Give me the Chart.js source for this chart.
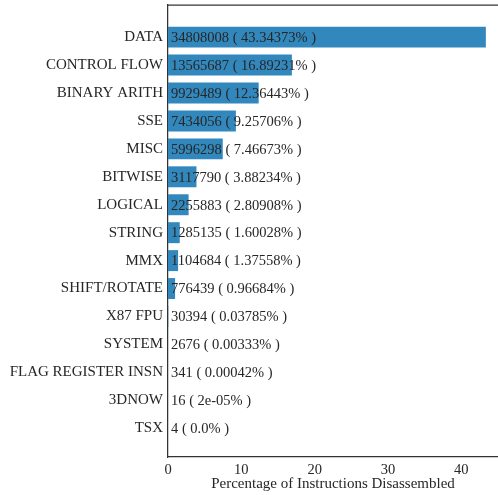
<!DOCTYPE html>
<html>
<head>
<meta charset="utf-8">
<script src="https://cdn.jsdelivr.net/npm/chart.js@4"></script>
<style>
  body { margin: 0; background: #fff; }
  #wrap { width: 498px; height: 495px; }
</style>
</head>
<body>
<div id="wrap"><canvas id="instrChart"></canvas></div>
<script>
var categories = ['DATA', 'CONTROL FLOW', 'BINARY ARITH', 'SSE', 'MISC', 'BITWISE', 'LOGICAL',
  'STRING', 'MMX', 'SHIFT/ROTATE', 'X87 FPU', 'SYSTEM', 'FLAG REGISTER INSN', '3DNOW', 'TSX'];
var counts = [34808008, 13565687, 9929489, 7434056, 5996298, 3117790, 2255883,
  1285135, 1104684, 776439, 30394, 2676, 341, 16, 4];
var percents = [43.34373, 16.89231, 12.36443, 9.25706, 7.46673, 3.88234, 2.80908,
  1.60028, 1.37558, 0.96684, 0.03785, 0.00333, 0.00042, 0.00002, 0.0];
var percentText = ['43.34373', '16.89231', '12.36443', '9.25706', '7.46673', '3.88234', '2.80908',
  '1.60028', '1.37558', '0.96684', '0.03785', '0.00333', '0.00042', '2e-05', '0.0'];
var xTicks = [0, 10, 20, 30, 40];

Chart.defaults.font.family = "'Liberation Serif', 'DejaVu Serif', serif";
Chart.defaults.color = '#262626';

var spineColor = '#333333';

// text inside / after the bars
var barLabels = {
  id: 'barLabels',
  afterDatasetsDraw: function (chart) {
    var ctx = chart.ctx;
    var meta = chart.getDatasetMeta(0);
    ctx.save();
    ctx.font = "14.5px 'Liberation Serif', 'DejaVu Serif', serif";
    ctx.fillStyle = '#262626';
    ctx.textBaseline = 'middle';
    ctx.textAlign = 'left';
    meta.data.forEach(function (bar, i) {
      ctx.fillText(counts[i] + ' ( ' + percentText[i] + '% )', bar.base + 3, bar.y + 1);
    });
    ctx.restore();
  }
};

// top spine
var topSpine = {
  id: 'topSpine',
  afterDraw: function (chart) {
    var a = chart.chartArea;
    var ctx = chart.ctx;
    ctx.save();
    ctx.strokeStyle = spineColor;
    ctx.lineWidth = 1.25;
    ctx.beginPath();
    ctx.moveTo(a.left, a.top);
    ctx.lineTo(a.right, a.top);
    ctx.stroke();
    ctx.restore();
  }
};

var instrChart = new Chart(document.getElementById('instrChart'), {
  type: 'bar',
  data: {
    datasets: [
      {
        data: percents.map(function (p, i) { return { x: p, y: i }; }),
        backgroundColor: '#3288bd',
        borderWidth: 0,
        categoryPercentage: 1,
        barPercentage: 0.75,
      },
    ],
  },
  options: {
    indexAxis: 'y',
    responsive: true,
    maintainAspectRatio: false,
    animation: false,
    layout: { padding: { top: 5, right: 0, left: 0, bottom: 0 } },
    plugins: {
      legend: { display: false },
      tooltip: { enabled: false },
    },
    scales: {
      x: {
        type: 'linear',
        min: 0,
        max: 45,
        grid: { display: false, drawTicks: false },
        border: { display: true, color: spineColor, width: 1.25 },
        afterBuildTicks: function (scale) {
          scale.ticks = xTicks.map(function (v) { return { value: v }; });
        },
        ticks: { padding: 4, font: { size: 14.5 } },
        title: {
          display: true,
          text: 'Percentage of Instructions Disassembled',
          font: { size: 15 },
          padding: { top: 0, bottom: 2 },
        },
        afterFit: function (scale) {
          scale.height = 38;
          scale.paddingLeft = 0;
          scale.paddingRight = 0;
        },
      },
      y: {
        type: 'linear',
        reverse: true,
        offset: false,
        min: -1.15,
        max: 15.03,
        grid: { display: false, drawTicks: false },
        border: { display: true, color: spineColor, width: 1.25 },
        afterBuildTicks: function (scale) {
          scale.ticks = categories.map(function (c, i) { return { value: i }; });
        },
        ticks: {
          padding: 5,
          font: { size: 15 },
          autoSkip: false,
          callback: function (value) { return categories[value]; },
        },
        afterFit: function (scale) {
          scale.width = 168;
          scale.paddingTop = 0;
          scale.paddingBottom = 0;
        },
      },
    },
  },
  plugins: [barLabels, topSpine],
});
</script>
</body>
</html>
